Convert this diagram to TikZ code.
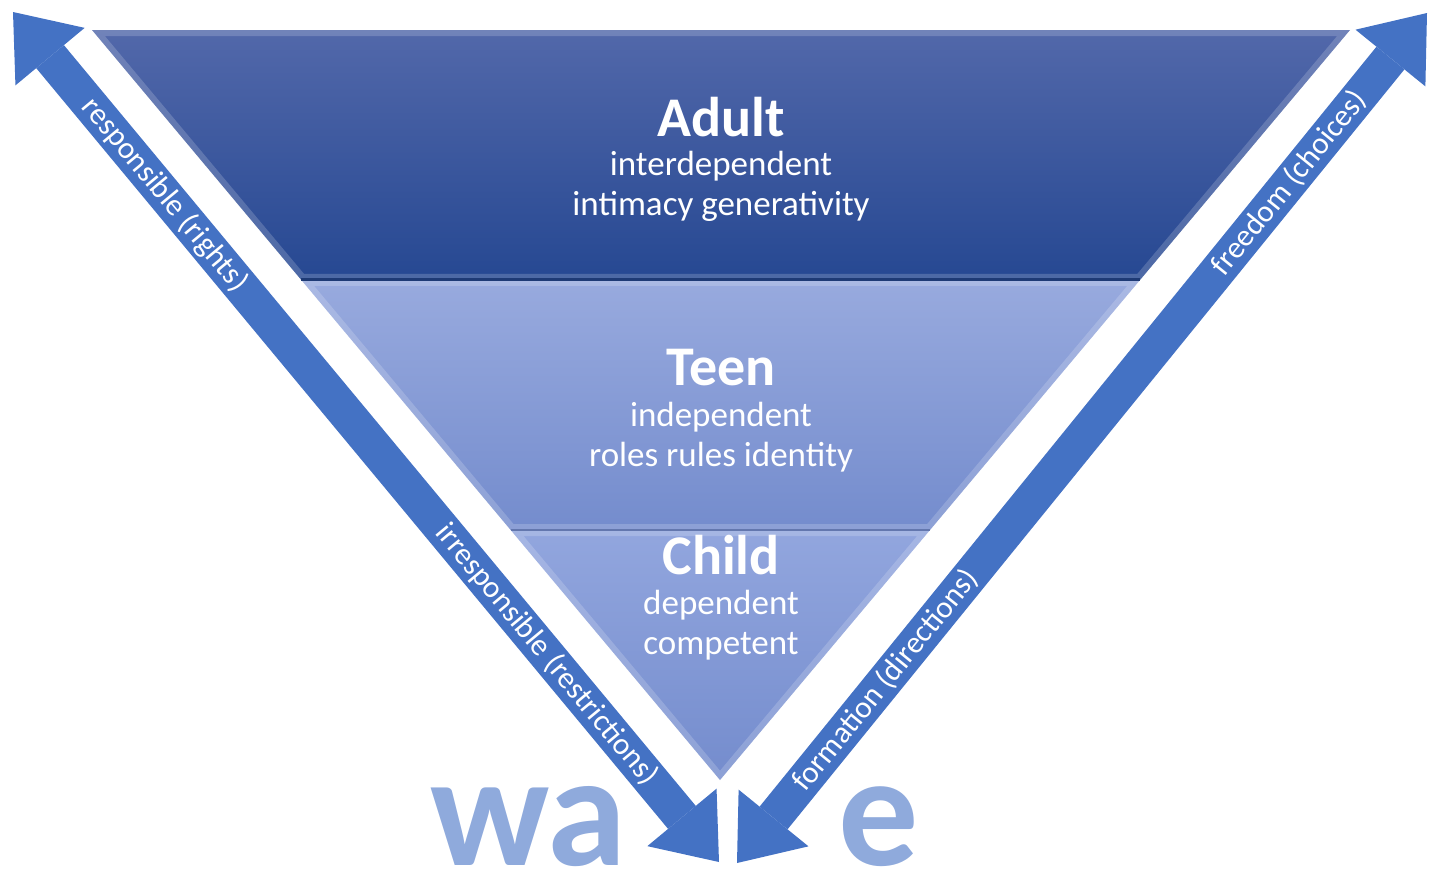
\documentclass[tikz,border=0pt]{standalone}
\usepackage{fontspec}
\setmainfont{Carlito}
\usepackage{tikz}
\usetikzlibrary{arrows.meta}
\usetikzlibrary{positioning}
\usetikzlibrary{calc}
\definecolor{arrowblue}{RGB}{68,114,196}
\definecolor{waveblue}{RGB}{143,170,220}
\definecolor{adulttop}{RGB}{82,104,170}
\definecolor{adultbot}{RGB}{38,72,146}
\definecolor{teentop}{RGB}{152,170,222}
\definecolor{teenbot}{RGB}{116,140,205}
\definecolor{childtop}{RGB}{146,166,222}
\definecolor{childbot}{RGB}{116,140,205}
\tikzstyle{bigarrow}=[draw=arrowblue,line width=36pt,{Triangle[width=90pt,length=58pt,line width=0pt]}-{Triangle[width=90pt,length=58pt,line width=0pt]}]
\tikzstyle{armtext}=[sloped,text=white,inner sep=0pt,font=\fontsize{31}{33}\selectfont]
\tikzstyle{head}=[text=white,inner sep=0pt,font=\bfseries\fontsize{56}{60}\selectfont]
\tikzstyle{sub}=[text=white,inner sep=0pt,align=center,font=\fontsize{35}{40}\selectfont]
\tikzstyle{wave}=[text=waveblue,inner sep=0pt,font=\bfseries\fontsize{160}{160}\selectfont]
\tikzstyle{bevel}=[draw=white,draw opacity=.18,line width=12pt]
\begin{document}
\begin{tikzpicture}[x=1pt,y=-1pt]
\useasboundingbox (0,0) rectangle (1441,871);
\coordinate (tl) at (92,30);
\coordinate (tr) at (1350,30);
\coordinate (apex) at (720,780);
\coordinate (al) at ($(tl)!.3333!(apex)$);
\coordinate (ar) at ($(tr)!.3333!(apex)$);
\coordinate (cl) at ($(tl)!.6667!(apex)$);
\coordinate (cr) at ($(tr)!.6667!(apex)$);

% bands
\shade[top color=adulttop,bottom color=adultbot] (tl) -- (tr) -- (ar) -- (al) -- cycle;
\shade[top color=teentop,bottom color=teenbot] (al) -- (ar) -- (cr) -- (cl) -- cycle;
\shade[top color=childtop,bottom color=childbot] (cl) -- (cr) -- (apex) -- cycle;
\begin{scope}
\clip (tl) -- (tr) -- (ar) -- (al) -- cycle;
\draw[bevel] (tl) -- (tr) -- (ar) -- (al) -- cycle;
\end{scope}
\begin{scope}
\clip (al) -- (ar) -- (cr) -- (cl) -- cycle;
\draw[bevel] (al) -- (ar) -- (cr) -- (cl) -- cycle;
\end{scope}
\begin{scope}
\clip (cl) -- (cr) -- (apex) -- cycle;
\draw[bevel] (cl) -- (cr) -- (apex) -- cycle;
\end{scope}
\draw[adultbot!80!black,line width=3pt] (al) -- (ar);
\draw[teenbot!85!black,line width=2pt] (cl) -- (cr);

\node[head] (adult) at (721,117) {Adult};
\node[sub] (adultsub) at (721,186) {interdependent\\intimacy generativity};
\node[head] (teen) at (721,368) {Teen};
\node[sub] (teensub) at (721,437) {independent\\roles rules identity};
\node[head] (child) at (721,555) {Child};
\node[sub] (childsub) at (721,625) {dependent\\competent};

% arrows
\coordinate (lt) at (13,12);
\coordinate (lb) at (719,862);
\coordinate (rb) at (737,863);
\coordinate (rt) at (1427,13);
\draw[bigarrow] (lt) -- (lb)
  node[armtext,pos=.215] (rights) {responsible (rights)}
  node[armtext,pos=.756] (restr) {irresponsible (restrictions)};
\draw[bigarrow] (rb) -- (rt)
  node[armtext,pos=.215] (form) {formation (directions)}
  node[armtext,pos=.800] (free) {freedom (choices)};

\node[wave,anchor=base east] (wa) at (627,865) {wa};
\node[wave,anchor=base west] (e) at (838,865) {e};
\end{tikzpicture}
\end{document}
